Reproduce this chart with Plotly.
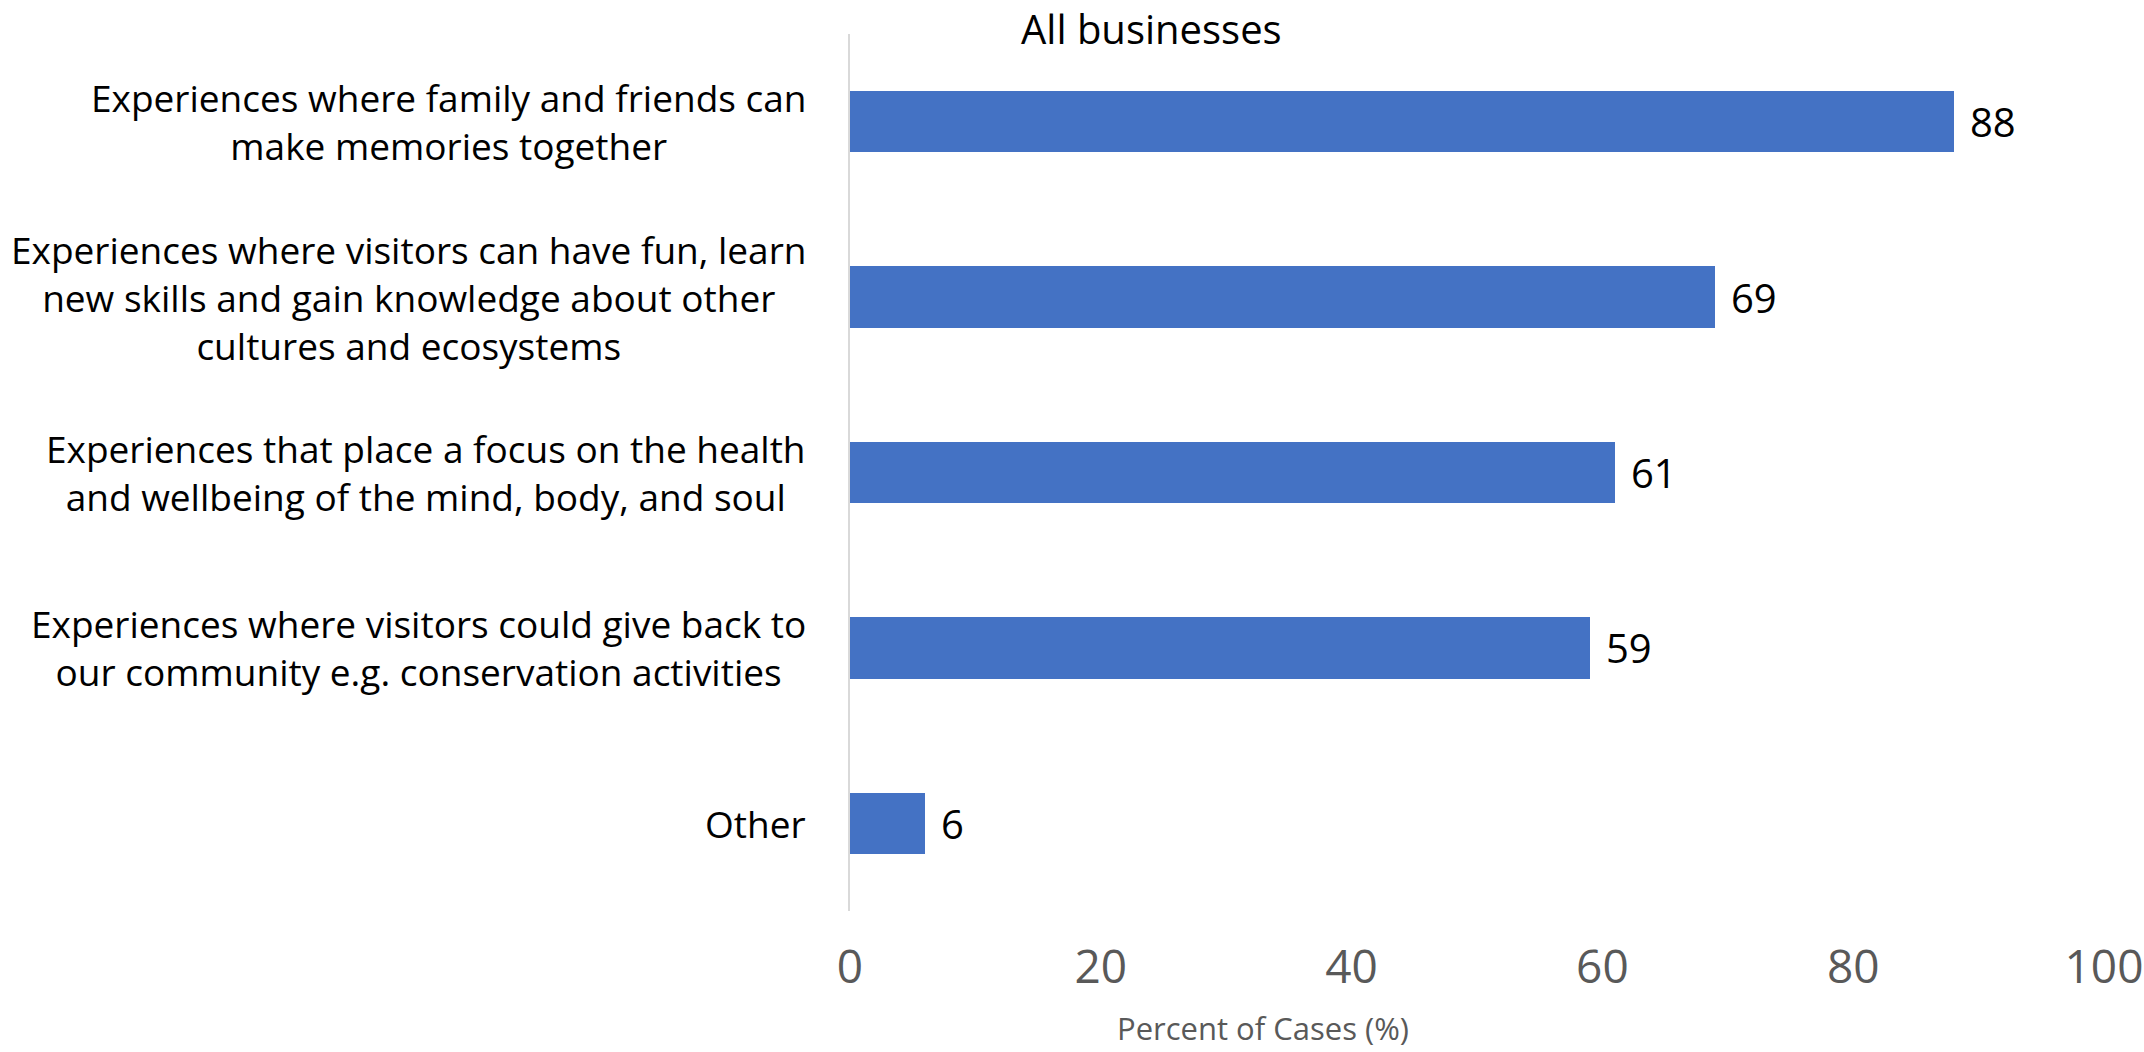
import plotly.graph_objects as go

# Survey responses: share of businesses offering each type of experience
categories = [
    "Experiences where family and friends can<br>make memories together",
    "Experiences where visitors can have fun, learn<br>new skills and gain knowledge about other<br>cultures and ecosystems",
    "Experiences that place a focus on the health<br>and wellbeing of the mind, body, and soul",
    "Experiences where visitors could give back to<br>our community e.g. conservation activities",
    "Other",
]
values = [88, 69, 61, 59, 6]
x_ticks = [0, 20, 40, 60, 80, 100]

FONT = "Open Sans"
BAR_COLOR = "#4472C4"

W, H = 2144, 1052
L, R, T, B = 850, 40, 34, 141
PW, PH = W - L - R, H - T - B


def px_x(x):
    return (x - L) / PW


def px_y(y):
    return 1 - (y - T) / PH


fig = go.Figure()
fig.add_trace(go.Bar(
    y=list(range(len(categories))),
    x=values,
    orientation="h",
    width=0.35,
    marker=dict(color=BAR_COLOR, line=dict(width=0)),
    showlegend=False,
    hoverinfo="x",
))

# Value labels just beyond each bar end
for i, v in enumerate(values):
    fig.add_annotation(
        x=v, y=i, xref="x", yref="y",
        text=str(v), showarrow=False,
        xanchor="left", yanchor="middle", xshift=14,
        font=dict(family=FONT, size=40, color="#000000"),
    )

# Category labels: multi-line, centred lines, right edge aligned near the axis
for i, label in enumerate(categories):
    fig.add_annotation(
        x=0, y=i, xref="x", yref="y",
        text=label, showarrow=False,
        xanchor="right", yanchor="middle", align="center",
        xshift=-42,
        font=dict(family=FONT, size=37, color="#000000"),
    )

fig.add_annotation(
    x=px_x(1151), y=px_y(28), xref="paper", yref="paper",
    text="All businesses", showarrow=False,
    xanchor="center", yanchor="middle",
    font=dict(family=FONT, size=40, color="#000000"),
)

fig.add_annotation(
    x=px_x(1263), y=px_y(1028), xref="paper", yref="paper",
    text="Percent of Cases (%)", showarrow=False,
    xanchor="center", yanchor="middle",
    font=dict(family=FONT, size=31, color="#595959"),
)

fig.update_layout(
    width=W, height=H,
    margin=dict(l=L, r=R, t=T, b=B, autoexpand=False),
    paper_bgcolor="white", plot_bgcolor="white",
    bargap=0,
    xaxis=dict(
        range=[0, 100], tickvals=x_ticks, automargin=False,
        ticklabeloverflow="allow",
        showgrid=False, zeroline=False, showline=False,
        ticks="", ticklabelstandoff=25,
        tickfont=dict(family=FONT, size=46, color="#595959"),
    ),
    yaxis=dict(
        range=[len(categories) - 0.5, -0.5], automargin=False,
        showticklabels=False, showgrid=False, zeroline=False,
        showline=True, linecolor="#D9D9D9", linewidth=2,
        ticks="",
    ),
)

fig.write_html("out.html")
